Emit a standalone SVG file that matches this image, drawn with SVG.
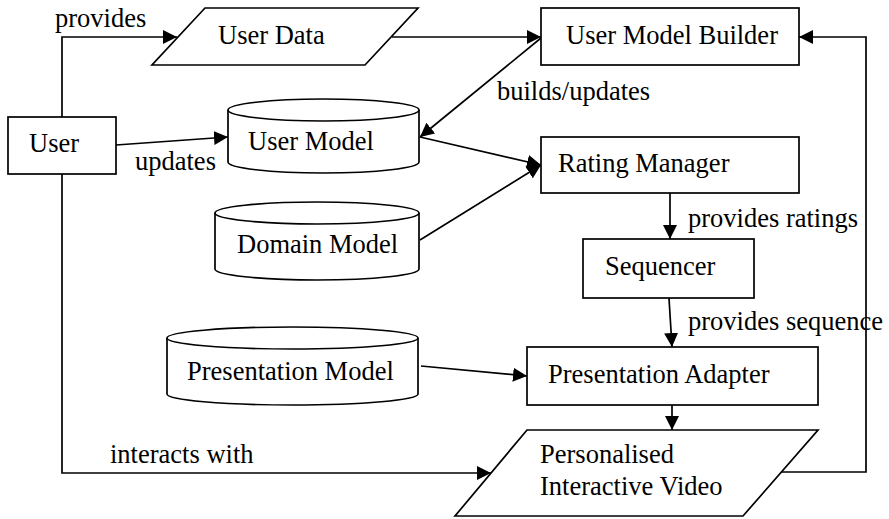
<svg xmlns="http://www.w3.org/2000/svg" width="889" height="519" viewBox="0 0 889 519">
<style>
.s{fill:#fff;stroke:#000;stroke-width:1.7}
.c{fill:none;stroke:#000;stroke-width:1.7}
text{font-family:"Liberation Serif","Times New Roman",serif;font-size:26.5px;fill:#000}
</style>
<defs>
<marker id="a" markerUnits="userSpaceOnUse" markerWidth="14" markerHeight="14" refX="14" refY="7" orient="auto">
<path d="M0,0 L14,7 L0,14 Z" fill="#000"/>
</marker>
</defs>
<rect width="889" height="519" fill="#fff"/>
<g id="connectors">
<polyline class="c" points="62,117 62,37 177,37" marker-end="url(#a)"/>
<line class="c" x1="116" y1="145" x2="228" y2="137" marker-end="url(#a)"/>
<line class="c" x1="392" y1="37" x2="541" y2="37" marker-end="url(#a)"/>
<line class="c" x1="541" y1="38" x2="420" y2="137" marker-end="url(#a)"/>
<line class="c" x1="420" y1="137" x2="541" y2="165" marker-end="url(#a)"/>
<line class="c" x1="420" y1="240" x2="541" y2="165" marker-end="url(#a)"/>
<line class="c" x1="670" y1="193" x2="670" y2="239" marker-end="url(#a)"/>
<line class="c" x1="669" y1="298" x2="672" y2="347" marker-end="url(#a)"/>
<line class="c" x1="421" y1="366" x2="527" y2="376" marker-end="url(#a)"/>
<line class="c" x1="672" y1="405" x2="672" y2="430" marker-end="url(#a)"/>
<polyline class="c" points="62,174 62,473 491,473" marker-end="url(#a)"/>
<polyline class="c" points="777,472 866,472 866,37 799,37" marker-end="url(#a)"/>
<text x="55" y="27">provides</text>
<text x="135" y="170">updates</text>
<text x="497" y="100">builds/updates</text>
<text x="688" y="227">provides ratings</text>
<text x="688" y="330">provides sequence</text>
<text x="110" y="463">interacts with</text>
</g>
<g id="user">
<rect class="s" x="8" y="117" width="108" height="57"/>
<text x="29" y="152">User</text>
</g>
<g id="user-data">
<polygon class="s" points="205,8 418,8 365,65 152,65"/>
<text x="218" y="44">User Data</text>
</g>
<g id="user-model-builder">
<rect class="s" x="541" y="8" width="258" height="57"/>
<text x="566" y="44">User Model Builder</text>
</g>
<g id="user-model">
<path class="s" d="M228,110 L228,162 A95.5,11 0 0 0 419,162 L419,110"/>
<ellipse class="s" cx="323.5" cy="110" rx="95.5" ry="11"/>
<text x="248" y="150">User Model</text>
</g>
<g id="rating-manager">
<rect class="s" x="541" y="137" width="258" height="56"/>
<text x="558" y="172">Rating Manager</text>
</g>
<g id="domain-model">
<path class="s" d="M215,213 L215,269 A102,11 0 0 0 419,269 L419,213"/>
<ellipse class="s" cx="317" cy="213" rx="102" ry="11"/>
<text x="237" y="253">Domain Model</text>
</g>
<g id="sequencer">
<rect class="s" x="583" y="239" width="171" height="59"/>
<text x="605" y="275">Sequencer</text>
</g>
<g id="presentation-model">
<path class="s" d="M167,338 L167,394 A125.5,11 0 0 0 418,394 L418,338"/>
<ellipse class="s" cx="292.5" cy="338" rx="125.5" ry="11"/>
<text x="187" y="380">Presentation Model</text>
</g>
<g id="presentation-adapter">
<rect class="s" x="527" y="347" width="291" height="58"/>
<text x="548" y="383">Presentation Adapter</text>
</g>
<g id="personalised-interactive-video">
<polygon class="s" points="527,430 818,430 743,516 455,516"/>
<text x="540" y="463">Personalised</text>
<text x="540" y="495">Interactive Video</text>
</g>
</svg>
